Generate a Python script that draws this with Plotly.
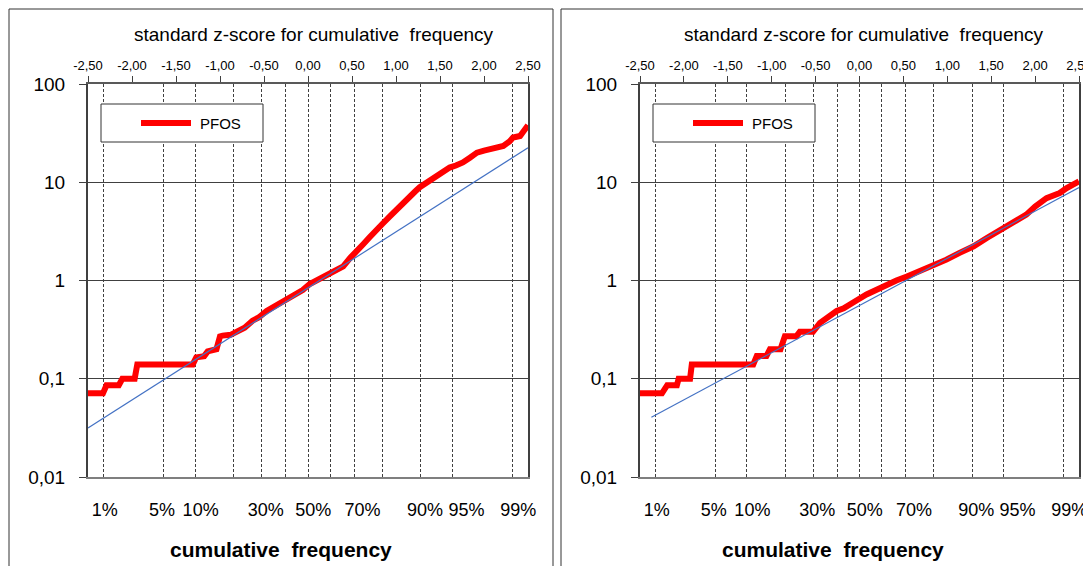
import plotly.graph_objects as go

# The page body has an 8px margin, so the figure is drawn 8px in from the window corner.
OFF = 8
W, H = 1091 - OFF, 566 - OFF

# ---------------- data ----------------
top_tick_vals = [-2.5, -2.0, -1.5, -1.0, -0.5, 0.0, 0.5, 1.0, 1.5, 2.0, 2.5]
top_tick_text = ["-2,50", "-2,00", "-1,50", "-1,00", "-0,50", "0,00", "0,50", "1,00", "1,50", "2,00", "2,50"]

# dashed grid lines at these cumulative frequencies (as z-scores)
pct_grid_z = [-2.326, -1.645, -1.2816, -0.8416, -0.5244, -0.2533, 0.0, 0.2533, 0.5244, 0.8416, 1.2816, 1.645, 2.326]
# frequency labels and where they sit along the z axis
pct_label_text = ["1%", "5%", "10%", "30%", "50%", "70%", "90%", "95%", "99%"]
pct_label_z = [-2.31, -1.66, -1.22, -0.48, 0.06, 0.62, 1.33, 1.80, 2.39]

y_tick_vals = [0.01, 0.1, 1, 10, 100]
y_tick_text = ["0,01", "0,1", "1", "10", "100"]

left_z = [-2.50, -2.33, -2.29, -2.15, -2.11, -1.97, -1.94, -1.31, -1.27, -1.18, -1.14, -1.04,
          -1.00, -0.97, -0.88, -0.80, -0.72, -0.63, -0.56, -0.47, -0.40, -0.28, -0.20, -0.06,
          0.02, 0.10, 0.18, 0.25, 0.32, 0.40, 0.48, 0.55, 0.63, 0.70, 0.78, 0.85, 0.93, 1.01,
          1.08, 1.16, 1.22, 1.27, 1.34, 1.42, 1.50, 1.57, 1.61, 1.68, 1.76, 1.84, 1.92, 2.00,
          2.07, 2.15, 2.22, 2.29, 2.33, 2.41, 2.45, 2.50]
left_pfos = [0.071, 0.071, 0.086, 0.086, 0.100, 0.100, 0.140, 0.140, 0.165, 0.170, 0.190, 0.200,
             0.270, 0.275, 0.280, 0.310, 0.330, 0.390, 0.420, 0.490, 0.530, 0.630, 0.680, 0.800,
             0.920, 1.00, 1.10, 1.17, 1.27, 1.39, 1.70, 2.02, 2.35, 2.75, 3.20, 3.80, 4.50, 5.35,
             6.2, 7.3, 8.1, 8.9, 9.8, 10.8, 12.0, 13.5, 14.1, 14.8, 15.9, 17.8, 20.0, 21.0,
             21.7, 22.5, 23.4, 26.0, 28.5, 29.6, 33.0, 38.0]
left_fit_z = [-2.5, 2.5]
left_fit_v = [0.0316, 22.4]

right_z = [-2.50, -2.25, -2.19, -2.08, -2.06, -1.93, -1.91, -1.21, -1.17, -1.06, -1.02, -0.90,
           -0.85, -0.72, -0.68, -0.53, -0.45, -0.39, -0.34, -0.26, -0.18, -0.11, -0.03, 0.08,
           0.18, 0.27, 0.42, 0.54, 0.69, 0.84, 0.99, 1.14, 1.30, 1.45, 1.60, 1.75, 1.90, 2.00,
           2.13, 2.28, 2.36, 2.50]
right_pfos = [0.071, 0.071, 0.086, 0.086, 0.100, 0.100, 0.140, 0.140, 0.170, 0.170, 0.200, 0.200,
              0.270, 0.270, 0.300, 0.300, 0.370, 0.400, 0.430, 0.490, 0.520, 0.580, 0.630, 0.720,
              0.800, 0.875, 1.00, 1.10, 1.24, 1.42, 1.63, 1.91, 2.23, 2.71, 3.24, 3.79, 4.68, 5.67,
              6.9, 7.76, 8.72, 10.2]
right_fit_z = [-2.37, 2.5]
right_fit_v = [0.0405, 8.83]

series_name = "PFOS"
top_title = "standard z-score for cumulative  frequency"
bottom_title = "cumulative  frequency"

# ---------------- helpers ----------------
FONT = "Liberation Sans, Arial, sans-serif"
def px(x):  # window pixel -> paper
    return (x - OFF) / W
def py(y):
    return 1 - (y - OFF) / H

panels = [
    dict(x0=88, x1=528, border=(9, 553), z=left_z, v=left_pfos, fz=left_fit_z, fv=left_fit_v,
         title_c=314, xlab_c=281),
    dict(x0=640, x1=1079, border=(561, 1130), z=right_z, v=right_pfos, fz=right_fit_z, fv=right_fit_v,
         title_c=864, xlab_c=833),
]
y_top, y_bot = 84, 477
RED = "#FF0000"
BLUE = "#4472C4"
LINEC = "#404040"

fig = go.Figure()
layout = dict(width=W, height=H, margin=dict(l=0, r=0, t=0, b=0, pad=0, autoexpand=False),
              paper_bgcolor="white", plot_bgcolor="white", showlegend=False,
              font=dict(family=FONT, color="black"))
shapes, annotations = [], []

for i, p in enumerate(panels):
    xb, xt, xl, yy = ("x", "x2", "x5", "y") if i == 0 else ("x3", "x4", "x6", "y2")
    xb_name, xt_name, xl_name, y_name = (("xaxis", "xaxis2", "xaxis5", "yaxis") if i == 0
                                         else ("xaxis3", "xaxis4", "xaxis6", "yaxis2"))
    dom = [px(p["x0"]), px(p["x1"])]

    # base axis: dashed frequency grid + bottom frame line
    layout[xb_name] = dict(domain=dom, anchor=yy, range=[-2.5, 2.5], tickmode="array",
                           tickvals=pct_grid_z, showticklabels=False, ticks="", showgrid=True,
                           gridcolor=LINEC, gridwidth=1, griddash="3px,2px", zeroline=False,
                           showline=True, linecolor="#7f7f7f", linewidth=2, automargin=False)
    # bottom labels (cumulative frequency)
    layout[xl_name] = dict(overlaying=xb, side="bottom", anchor=yy, range=[-2.5, 2.5],
                           tickmode="array", tickvals=pct_label_z, ticktext=pct_label_text,
                           ticks="", showgrid=False, zeroline=False, showline=False, tickangle=0,
                           automargin=False, tickfont=dict(size=18, family=FONT),
                           ticklabelstandoff=20, ticklabeloverflow="allow")
    # top axis: standard z-score
    layout[xt_name] = dict(overlaying=xb, side="top", anchor=yy, range=[-2.5, 2.5], tickmode="array",
                           tickvals=top_tick_vals, ticktext=top_tick_text, ticks="outside", ticklen=6,
                           tickcolor=LINEC, showgrid=False, zeroline=False, showline=True,
                           linecolor="#595959", linewidth=2, tickangle=0, automargin=False,
                           tickfont=dict(size=13, family=FONT), ticklabelstandoff=1,
                           ticklabeloverflow="allow")
    layout[y_name] = dict(domain=[py(y_bot), py(y_top)], anchor=xb, type="log", range=[-2, 2],
                          tickmode="array", tickvals=y_tick_vals, ticktext=y_tick_text,
                          ticks="outside", ticklen=7, tickcolor=LINEC, showgrid=True,
                          gridcolor=LINEC, gridwidth=1, zeroline=False, showline=True, mirror=True,
                          linecolor="#404040", linewidth=2, automargin=False,
                          tickfont=dict(size=19, family=FONT), ticklabelstandoff=10)

    fig.add_trace(go.Scatter(x=p["z"], y=p["v"], mode="lines", xaxis=xb, yaxis=yy,
                             line=dict(color=RED, width=6), name=series_name))
    fig.add_trace(go.Scatter(x=p["fz"], y=p["fv"], mode="lines", xaxis=xt, yaxis=yy,
                             line=dict(color=BLUE, width=1.2), hoverinfo="skip", name="fit"))
    # invisible marker so the frequency-label axis is drawn
    fig.add_trace(go.Scatter(x=[p["z"][0]], y=[p["v"][0]], mode="markers", xaxis=xl, yaxis=yy,
                             marker=dict(size=1, opacity=0), hoverinfo="skip", name=""))

    # panel border
    bx0, bx1 = p["border"]
    shapes.append(dict(type="rect", xref="paper", yref="paper", x0=px(bx0), x1=px(bx1),
                       y0=py(620), y1=py(9), line=dict(color="#333333", width=1), layer="below"))
    # legend box
    off = p["x0"] - 88
    shapes.append(dict(type="rect", xref="paper", yref="paper", x0=px(101 + off), x1=px(263 + off),
                       y0=py(142), y1=py(104), line=dict(color="#333333", width=1),
                       fillcolor="white", layer="above"))
    shapes.append(dict(type="line", xref="paper", yref="paper", x0=px(141 + off), x1=px(191 + off),
                       y0=py(123), y1=py(123), line=dict(color=RED, width=6), layer="above"))
    annotations.append(dict(text=series_name, xref="paper", yref="paper", x=px(198 + off), y=py(123),
                            xanchor="left", yanchor="middle", showarrow=False,
                            font=dict(size=15, family=FONT, color="black")))
    # titles
    annotations.append(dict(text=top_title, xref="paper", yref="paper", x=px(p["title_c"]), y=py(35),
                            xanchor="center", yanchor="middle", showarrow=False,
                            font=dict(size=19, family=FONT, color="black")))
    annotations.append(dict(text="<b>" + bottom_title + "</b>", xref="paper", yref="paper",
                            x=px(p["xlab_c"]), y=py(549), xanchor="center", yanchor="middle",
                            showarrow=False, font=dict(size=21, family=FONT, color="black")))

layout["shapes"] = shapes
layout["annotations"] = annotations
fig.update_layout(**layout)
fig.write_html("out.html")
